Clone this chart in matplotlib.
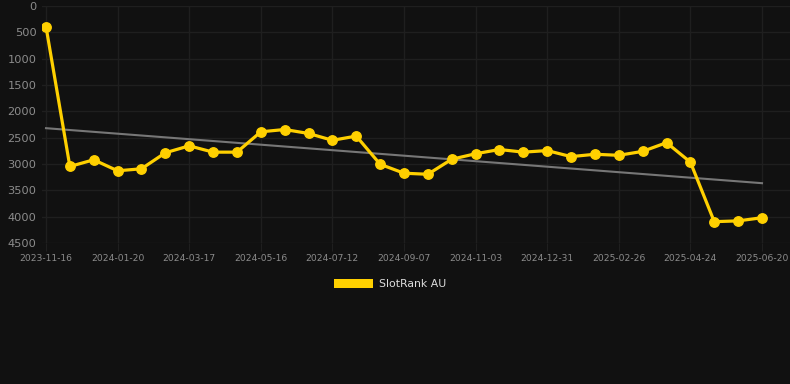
import numpy as np
import matplotlib
matplotlib.use("Agg")
import matplotlib.pyplot as plt
from matplotlib.patches import Patch

# rank values (lower is better, axis inverted)
ranks = [392, 3047, 2920, 3129, 3091, 2787, 2655, 2775, 2775, 2389,
         2345, 2420, 2550, 2470, 3005, 3175, 3195, 2910, 2805, 2725,
         2775, 2745, 2860, 2815, 2835, 2760, 2595, 2965, 4095, 4080, 4020]
tick_labels = ["2023-11-16", "2024-01-20", "2024-03-17", "2024-05-16",
               "2024-07-12", "2024-09-07", "2024-11-03", "2024-12-31",
               "2025-02-26", "2025-04-24", "2025-06-20"]
series_name = "SlotRank AU"

bg = "#111111"
gold = "#FFD000"

x = np.arange(len(ranks))
slope, intercept = np.polyfit(x, ranks, 1)
trend = slope * x + intercept

fig = plt.figure(figsize=(7.9, 3.84), dpi=100, facecolor=bg)
ax = fig.add_axes([42 / 790, 141 / 384, 748 / 790, 237 / 384], facecolor=bg)

ax.plot(x, trend, color="#777777", lw=1.5, zorder=2)
ax.plot(x, ranks, color=gold, lw=2.3, marker="o", ms=6.8,
        markeredgecolor=gold, zorder=3)

px = 716 / 30  # pixels per index step
ax.set_xlim(-4 / px, 30 + 28 / px)
ax.set_ylim(4500, 0)
ax.set_yticks(np.arange(0, 4501, 500))
ax.set_xticks(x[::3])
ax.set_xticklabels(tick_labels)

ax.grid(True, color="#1f1f1f", lw=1.0)
for s in ax.spines.values():
    s.set_visible(False)
ax.tick_params(axis="y", length=0, pad=4, labelsize=8.2, labelcolor="#8c8c8c")
ax.tick_params(axis="x", length=6, color="#1f1f1f", pad=2,
               labelsize=6.6, labelcolor="#8c8c8c")

fig.legend(handles=[Patch(facecolor=gold, label=series_name)],
           loc="center", bbox_to_anchor=(0.494, 0.26), frameon=False,
           handlelength=3.6, handleheight=0.9, handletextpad=0.5,
           fontsize=7.8, labelcolor="#dddddd")

fig.savefig("out.png", dpi=100, facecolor=bg)
